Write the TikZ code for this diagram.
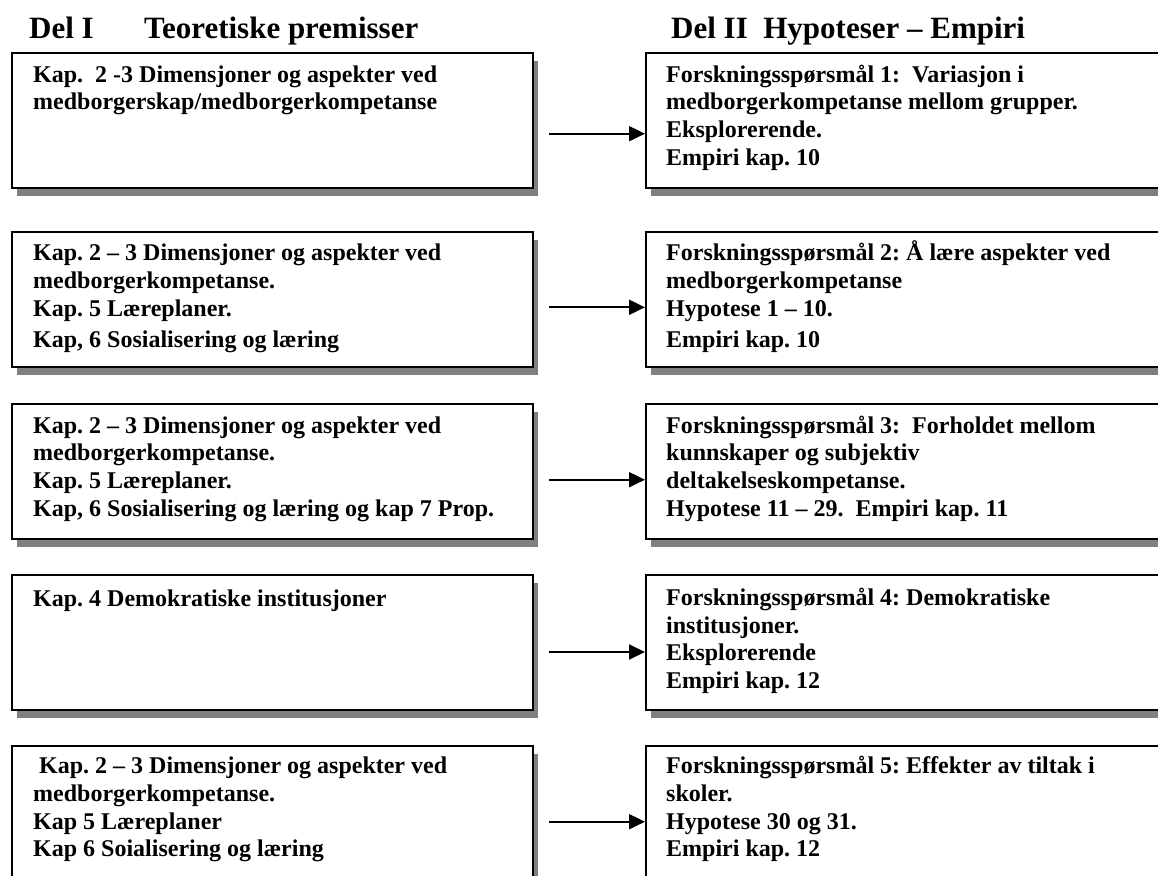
\documentclass[tikz,border=0pt]{standalone}
\usepackage{fontspec}
\setmainfont{Liberation Serif}
\usetikzlibrary{arrows.meta,shadows}
\definecolor{shadowgray}{RGB}{128,128,128}
\tikzset{
  box/.style={draw=black, line width=2pt, fill=white, rectangle, inner sep=0pt, anchor=north west,
    drop shadow={shadow xshift=5pt, shadow yshift=-8pt, fill=shadowgray, opacity=1}},
  lbox/.style={box, minimum width=521pt, minimum height=135pt},
  rbox/.style={box, minimum width=560pt, minimum height=135pt},
  txt/.style={anchor=base west, inner sep=0pt, font=\bfseries\fontsize{24}{27.7}\selectfont},
  ttl/.style={anchor=base west, inner sep=0pt, font=\bfseries\fontsize{31}{36}\selectfont},
  arr/.style={line width=2pt, -{Triangle[length=16pt,width=15pt]}},
}
\newcommand{\boxtext}[1]{\parbox[t]{490pt}{\frenchspacing #1}}
\frenchspacing
\begin{document}
\begin{tikzpicture}[x=1pt,y=-1pt]
\useasboundingbox (0,0) rectangle (1158,875);
\clip (0,0) rectangle (1158,875);
\fill[white] (0,0) rectangle (1158,875);

% titles
\node[ttl] (h1a) at (29,39) {Del I};
\node[ttl] (h1b) at (144,39) {Teoretiske premisser};
\node[ttl] (h2) at (671,39) {Del II\ \ Hypoteser – Empiri};

% boxes
\node[lbox] (L1) at (10.7,52.3) {};
\node[rbox] (R1) at (645,52.3) {};
\node[lbox] (L2) at (10.7,230.7) {};
\node[rbox] (R2) at (645,230.7) {};
\node[lbox] (L3) at (10.7,402.7) {};
\node[rbox] (R3) at (645,402.7) {};
\node[lbox] (L4) at (10.7,574.3) {};
\node[rbox] (R4) at (645,574.3) {};
\node[lbox, minimum height=170pt] (L5) at (10.7,744.7) {};
\node[rbox, minimum height=170pt] (R5) at (645,744.7) {};

% texts
\node[txt] (tl1) at (33,82) {\boxtext{Kap.\ \ 2 -3 Dimensjoner og aspekter ved\\medborgerskap/medborgerkompetanse}};
\node[txt] (tr1) at (666,82) {\boxtext{Forskningsspørsmål 1:\ \ Variasjon i\\medborgerkompetanse mellom grupper.\\Eksplorerende.\\Empiri kap. 10}};

\node[txt] (tl2) at (33,260.7) {\boxtext{Kap. 2 – 3 Dimensjoner og aspekter ved\\medborgerkompetanse.\\Kap. 5 Læreplaner.\\[3.9pt]Kap, 6 Sosialisering og læring}};
\node[txt] (tr2) at (666,260.7) {\boxtext{Forskningsspørsmål 2: Å lære aspekter ved\\medborgerkompetanse\\Hypotese 1 – 10.\\[3.9pt]Empiri kap. 10}};

\node[txt] (tl3) at (33,433) {\boxtext{Kap. 2 – 3 Dimensjoner og aspekter ved\\medborgerkompetanse.\\Kap. 5 Læreplaner.\\Kap, 6 Sosialisering og læring og kap 7 Prop.}};
\node[txt] (tr3) at (666,433) {\boxtext{Forskningsspørsmål 3:\ \ Forholdet mellom\\kunnskaper og subjektiv\\deltakelseskompetanse.\\Hypotese 11 – 29.\ \ Empiri kap. 11}};

\node[txt] (tl4) at (33,606) {\boxtext{Kap. 4 Demokratiske institusjoner}};
\node[txt] (tr4) at (666,605.5) {\boxtext{Forskningsspørsmål 4: Demokratiske\\institusjoner.\\Eksplorerende\\Empiri kap. 12}};

\node[txt] (tl5) at (33,773.3) {\boxtext{\ Kap. 2 – 3 Dimensjoner og aspekter ved\\[0.3pt]medborgerkompetanse.\\Kap 5 Læreplaner\\Kap 6 Soialisering og læring}};
\node[txt] (tr5) at (666,773.3) {\boxtext{Forskningsspørsmål 5: Effekter av tiltak i\\[0.3pt]skoler.\\Hypotese 30 og 31.\\Empiri kap. 12}};

% arrows
\coordinate (a1) at (549,133.7);
\coordinate (a2) at (549,307.3);
\coordinate (a3) at (549,479.7);
\coordinate (a4) at (549,652);
\coordinate (a5) at (549,821.7);
\draw[arr] (a1) -- (a1 -| R1.west);
\draw[arr] (a2) -- (a2 -| R2.west);
\draw[arr] (a3) -- (a3 -| R3.west);
\draw[arr] (a4) -- (a4 -| R4.west);
\draw[arr] (a5) -- (a5 -| R5.west);
\end{tikzpicture}
\end{document}
